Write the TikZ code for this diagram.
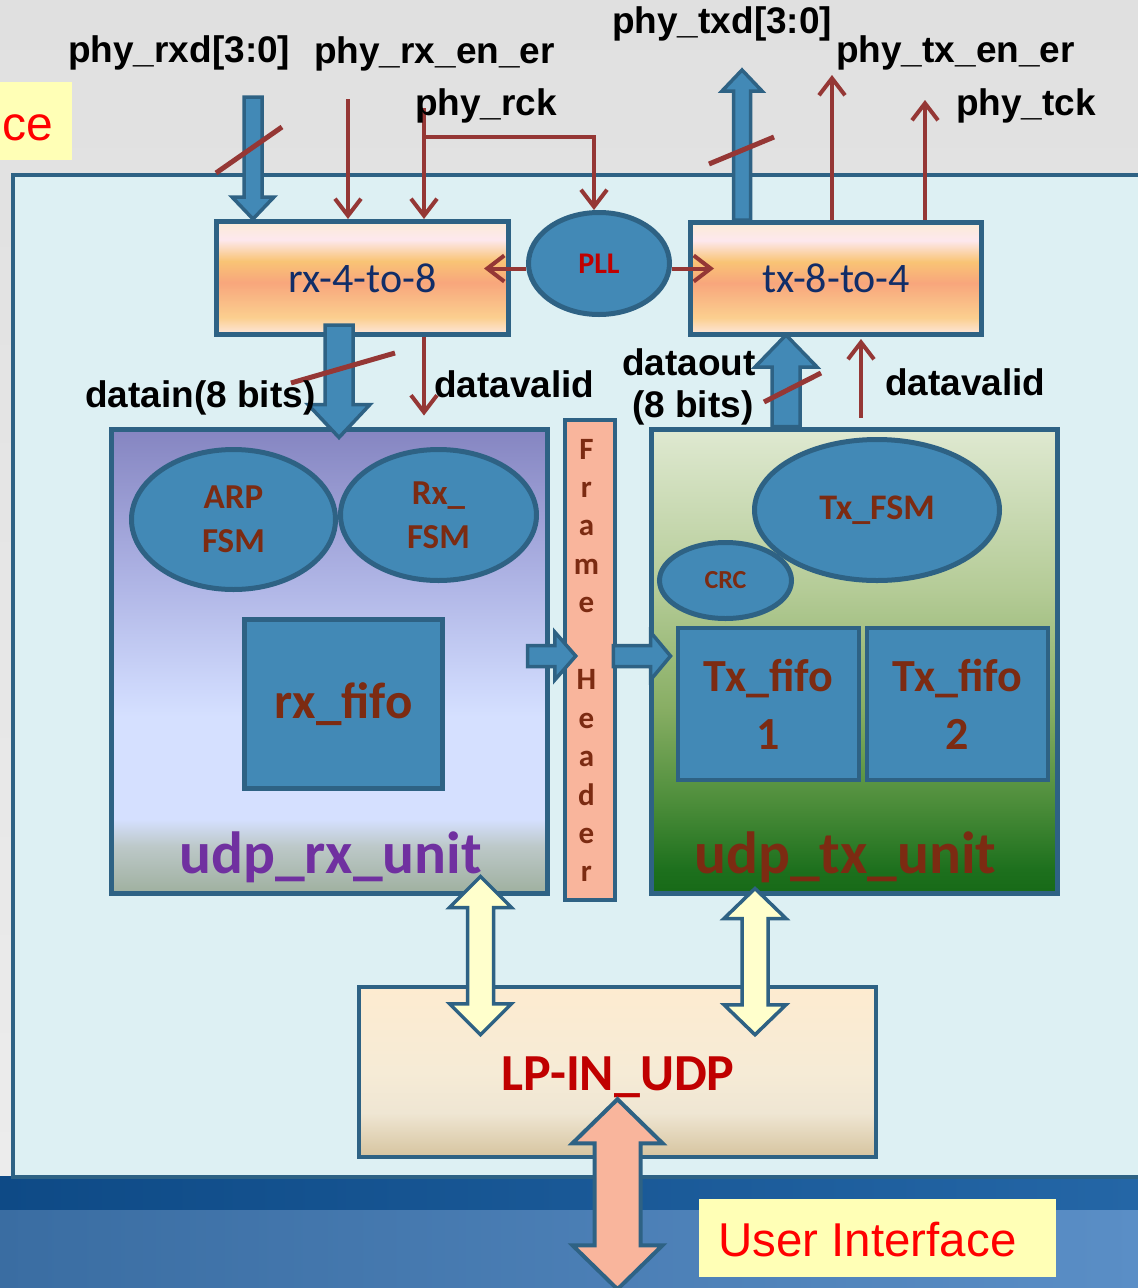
\documentclass[tikz,border=0pt]{standalone}
\usepackage{fontspec}
\setmainfont{Liberation Sans}
\newfontfamily\carl{Carlito}
\usetikzlibrary{calc,shapes.geometric,arrows.meta}
\definecolor{bgtop}{HTML}{E0E0E0}
\definecolor{bgbot}{HTML}{ECECEC}
\definecolor{banda1}{HTML}{0E4A86}
\definecolor{banda2}{HTML}{2466A6}
\definecolor{bandb1}{HTML}{3A6DA2}
\definecolor{bandb2}{HTML}{5A8EC6}
\definecolor{mainfill}{HTML}{DDF0F3}
\definecolor{bord}{HTML}{2E6284}
\definecolor{bluef}{HTML}{4289B6}
\definecolor{sigred}{HTML}{953735}
\definecolor{brownt}{HTML}{7C2B12}
\definecolor{navyt}{HTML}{112D68}
\definecolor{redt}{HTML}{C00000}
\definecolor{purpt}{HTML}{7030A0}
\definecolor{salm}{HTML}{F9B59C}
\definecolor{yelf}{HTML}{FFFFCC}
\definecolor{noteyel}{HTML}{FFFFB6}
\definecolor{uired}{HTML}{FF0000}
% converter box gradient
\definecolor{cvA}{HTML}{FDE7DE}
\definecolor{cvB}{HTML}{FBCF8F}
\definecolor{cvC}{HTML}{F8A67C}
\definecolor{cvD}{HTML}{F9C475}
\definecolor{cvE}{HTML}{FDE8EE}
\definecolor{cvF}{HTML}{FBEBD6}
\pgfdeclareverticalshading{convshade}{100bp}{color(0bp)=(cvA); color(25bp)=(cvA); color(32.5bp)=(cvB); color(48bp)=(cvC); color(57.5bp)=(cvD); color(67bp)=(cvE); color(75bp)=(cvF); color(100bp)=(cvF)}
% rx unit gradient
\definecolor{ruA}{HTML}{9FB09F}
\definecolor{ruB}{HTML}{BCC8C8}
\definecolor{ruC}{HTML}{D5E0FF}
\definecolor{ruD}{HTML}{CCD6FA}
\definecolor{ruE}{HTML}{ABB0E2}
\definecolor{ruF}{HTML}{8585C1}
\pgfdeclareverticalshading{rxunit}{100bp}{color(0bp)=(ruA); color(25bp)=(ruA); color(30bp)=(ruB); color(33bp)=(ruC); color(44bp)=(ruC); color(47.5bp)=(ruD); color(60bp)=(ruE); color(75bp)=(ruF); color(100bp)=(ruF)}
% tx unit gradient
\definecolor{tuA}{HTML}{176A17}
\definecolor{tuB}{HTML}{1D701D}
\definecolor{tuC}{HTML}{4E8E3B}
\definecolor{tuD}{HTML}{88AE64}
\definecolor{tuE}{HTML}{B4CB96}
\definecolor{tuF}{HTML}{DFE9D1}
\pgfdeclareverticalshading{txunit}{100bp}{color(0bp)=(tuA); color(25bp)=(tuA); color(27.5bp)=(tuB); color(35bp)=(tuC); color(45bp)=(tuD); color(57.5bp)=(tuE); color(75bp)=(tuF); color(100bp)=(tuF)}
% LP box gradient
\definecolor{lpA}{HTML}{D6C49F}
\definecolor{lpB}{HTML}{EFE6D3}
\definecolor{lpC}{HTML}{F6EBD6}
\definecolor{lpD}{HTML}{FDEBD0}
\pgfdeclareverticalshading{lpshade}{100bp}{color(0bp)=(lpA); color(25bp)=(lpA); color(38bp)=(lpB); color(50bp)=(lpC); color(75bp)=(lpD); color(100bp)=(lpD)}

% single block arrow: style, start, tip, shaft half width, head half width, head length
\newcommand{\myarrow}[6]{%
  \coordinate (hbA) at ($(#3)!#6!(#2)$);
  \draw[#1] ($(#2)!#4!90:(#3)$) -- ($(hbA)!#4!90:(#3)$) -- ($(hbA)!#5!90:(#3)$) -- (#3)
    -- ($(hbA)!#5!-90:(#3)$) -- ($(hbA)!#4!-90:(#3)$) -- ($(#2)!#4!-90:(#3)$) -- cycle;}
% double block arrow: style, tip1, tip2, shaft half width, head half width, head length
\newcommand{\mydarrow}[6]{%
  \coordinate (hdA) at ($(#2)!#6!(#3)$);
  \coordinate (hdB) at ($(#3)!#6!(#2)$);
  \draw[#1] (#2) -- ($(hdA)!#5!90:(#3)$) -- ($(hdA)!#4!90:(#3)$) -- ($(hdB)!#4!90:(#3)$)
    -- ($(hdB)!#5!90:(#3)$) -- (#3) -- ($(hdB)!#5!-90:(#3)$) -- ($(hdB)!#4!-90:(#3)$)
    -- ($(hdA)!#4!-90:(#3)$) -- ($(hdA)!#5!-90:(#3)$) -- cycle;}

\begin{document}
\begin{tikzpicture}[x=1pt,y=-1pt,
  lab/.style={font=\bfseries\fontsize{37}{40}\selectfont, text=black, inner sep=0pt, anchor=base west},
  sig/.style={draw=sigred, line width=4pt, -{Straight Barb[length=17pt,width=26pt]}},
  slash/.style={draw=sigred, line width=5pt},
  conv/.style={rectangle, draw=bord, line width=5pt, shade, shading=convshade, inner sep=0pt, text=navyt, font=\carl\fontsize{42}{50}\selectfont},
  blob/.style={ellipse, draw=bord, line width=5pt, fill=bluef, inner sep=0pt, text=brownt, align=center},
  bbox/.style={rectangle, draw=bord, line width=4.5pt, fill=bluef, inner sep=0pt, text=brownt, align=center},
  blk/.style={draw=bord, line width=3.5pt, fill=bluef},
  ylw/.style={draw=bord, line width=3.5pt, fill=yelf},
  slm/.style={draw=bord, line width=4pt, fill=salm},
  unitlab/.style={font=\carl\bfseries\fontsize{59.5}{62}\selectfont, anchor=base west, inner sep=0pt}
]
\useasboundingbox (0,0) rectangle (1138,1288);
% backgrounds
\fill[top color=bgtop, bottom color=bgbot] (0,0) rectangle (1138,1180);
\fill[left color=banda1, right color=banda2] (0,1176) rectangle (1138,1210);
\fill[left color=bandb1, right color=bandb2] (0,1210) rectangle (1138,1288);

% system box
\node[rectangle, draw=bord, line width=4pt, fill=mainfill, minimum width=1147, minimum height=1002, inner sep=0pt] (sys) at (586.5,676) {};

% note boxes
\node[rectangle, fill=noteyel, minimum width=72, minimum height=78, inner sep=0pt] (cebox) at (36,121) {};
\node[font=\fontsize{48}{50}\selectfont, text=uired, anchor=base west, inner sep=0pt] (cel) at (2,140) {ce};
\node[rectangle, fill=noteyel, minimum width=357, minimum height=78, inner sep=0pt] (ui) at (877.5,1238) {};
\node[font=\fontsize{47.5}{50}\selectfont, text=uired, anchor=base west, inner sep=0pt] (uil) at (718,1256) {User Interface};

% LP-IN_UDP box
\node[rectangle, draw=bord, line width=4.5pt, shade, shading=lpshade, minimum width=517, minimum height=170, inner sep=0pt] (lp) at (617.5,1072) {};
\node[font=\carl\bfseries\fontsize{52}{56}\selectfont, text=redt, anchor=base, inner sep=0pt] (lpl) at (618,1090) {LP-IN\_UDP};

% converters and PLL
\node[conv, minimum width=292, minimum height=113] (rx) at (362.5,278) {rx-4-to-8};
\node[conv, minimum width=291, minimum height=112] (tx) at (836,278.5) {tx-8-to-4};
\node[blob, minimum width=141, minimum height=102, text=redt, font=\carl\bfseries\fontsize{30}{36}\selectfont] (pll) at (599,263.5) {PLL};

% PHY signals
\coordinate (rxenS) at (348,99);
\draw[sig] (rxenS) -- (rxenS |- rx.north);
\coordinate (rckS) at (424,108);
\draw[sig] (rckS) -- (rckS |- rx.north);
\coordinate (rckB) at (424,137);
\draw[sig] (rckB) -| ($(pll.north)+(-5,0)$);
\draw[sig] ($(pll.west)+(0,5)$) -- ($(pll.west -| rx.east)+(-27,5)$);
\draw[sig] ($(pll.east)+(0,5)$) -- ($(pll.east -| tx.west)+(26,5)$);
\coordinate (txenT) at (832,75);
\draw[sig] (txenT |- tx.north) -- (txenT);
\coordinate (tckT) at (925,100);
\draw[sig] (tckT |- tx.north) -- (tckT);

% PHY data buses
\coordinate (rxdS) at (253,97);
\coordinate (rxdT) at (rxdS |- rx.north);
\myarrow{blk}{rxdS}{rxdT}{9pt}{21pt}{22pt}
\coordinate (txdT) at (742,70);
\coordinate (txdS) at (txdT |- tx.north);
\myarrow{blk}{txdS}{txdT}{8.5pt}{20pt}{21pt}
\draw[slash] (216,173) -- (282,127);
\draw[slash] (709,164) -- (774,137);

% units
\node[rectangle, draw=bord, line width=5pt, shade, shading=rxunit, minimum width=436, minimum height=464, inner sep=0pt] (urx) at (329,661) {};
\node[rectangle, draw=bord, line width=5pt, shade, shading=txunit, minimum width=406, minimum height=464, inner sep=0pt] (utx) at (854,661) {};
\node[rectangle, draw=bord, line width=4.5pt, fill=salm, minimum width=50, minimum height=480, inner sep=0pt] (fh) at (590,660) {};
\foreach \ch/\k in {F/0,r/1,a/2,m/3,e/4,H/6,e/7,a/8,d/9,e/10,r/11}
  {\node[font=\carl\bfseries\fontsize{31}{36}\selectfont, text=brownt, anchor=base, inner sep=0pt] (fl\k) at (586.5,{459+38.45*\k}) {\ch};}

% rx unit internals
\node[blob, minimum width=204, minimum height=140, font=\carl\bfseries\fontsize{35}{44}\selectfont] (arp) at (233.5,519.5) {ARP\\FSM};
\node[blob, minimum width=196, minimum height=131, font=\carl\bfseries\fontsize{35}{44}\selectfont] (rxfsm) at (438.5,515) {Rx\_\\FSM};
\node[bbox, minimum width=198, minimum height=169, font=\carl\bfseries\fontsize{51}{56}\selectfont] (rxfifo) at (343.5,704) {rx\_fifo};
\node[unitlab, text=purpt] (urxl) at (179,873) {udp\_rx\_unit};

% tx unit internals
\node[blob, minimum width=245, minimum height=141, font=\carl\bfseries\fontsize{36}{40}\selectfont] (txfsm) at (877,510) {Tx\_FSM};
\node[blob, minimum width=132, minimum height=76, font=\carl\bfseries\fontsize{26}{30}\selectfont] (crc) at (725.5,580.5) {CRC};
\node[bbox, minimum width=181, minimum height=152, font=\carl\bfseries\fontsize{46}{58}\selectfont] (txf1) at (768.5,704) {Tx\_fifo\\1};
\node[bbox, minimum width=181, minimum height=152, font=\carl\bfseries\fontsize{46}{58}\selectfont] (txf2) at (957.5,704) {Tx\_fifo\\2};
\node[unitlab, text=brownt] (utxl) at (694,873) {udp\_tx\_unit};

% 8-bit buses
\coordinate (dinx) at (339,0);
\coordinate (dinS) at ($(dinx |- rx.south)+(0,-12)$);
\coordinate (dinT) at ($(dinx |- urx.north)+(0,11)$);
\myarrow{blk}{dinS}{dinT}{14pt}{31pt}{33pt}
\coordinate (doutx) at (786,0);
\coordinate (doutS) at (doutx |- utx.north);
\coordinate (doutT) at ($(doutx |- tx.south)+(0,-2)$);
\myarrow{blk}{doutS}{doutT}{14pt}{31pt}{32pt}
\draw[slash] (291,383) -- (395,353);
\draw[slash] (764,402) -- (821,373);
\coordinate (dv1x) at (424,0);
\draw[sig] (dv1x |- rx.south) -- ($(dv1x |- urx.north)+(0,-11)$);
\coordinate (dv2x) at (861,0);
\draw[sig] ($(dv2x |- utx.north)+(0,-9)$) -- ($(dv2x |- tx.south)+(0,2)$);

% frame header arrows
\coordinate (fay) at (0,656);
\coordinate (fa1S) at ($(fay -| urx.east)+(-22,0)$);
\coordinate (fa1T) at ($(fay -| fh.west)+(13,0)$);
\myarrow{blk}{fa1S}{fa1T}{10.5pt}{24pt}{21pt}
\coordinate (fa2S) at ($(fay -| fh.east)+(-4,0)$);
\coordinate (fa2T) at ($(fay -| utx.west)+(22,0)$);
\myarrow{blk}{fa2S}{fa2T}{10.5pt}{24pt}{20pt}

% labels
\node[lab] (lrxd) at (68,62) {phy\_rxd[3:0]};
\node[lab] (lrxen) at (314,63) {phy\_rx\_en\_er};
\node[lab] (lrck) at (415,115) {phy\_rck};
\node[lab] (ltxd) at (612,33) {phy\_txd[3:0]};
\node[lab] (ltxen) at (836,62) {phy\_tx\_en\_er};
\node[lab] (ltck) at (956,115) {phy\_tck};
\node[lab] (ldin) at (85,407) {datain(8 bits)};
\node[lab] (ldv1) at (434,397) {datavalid};
\node[lab] (ldout) at (622,375) {dataout};
\node[lab] (l8b) at (632,417) {(8 bits)};
\node[lab] (ldv2) at (885,395) {datavalid};

% unit <-> LP-IN_UDP
\coordinate (y1x) at (480.5,0);
\coordinate (y1A) at ($(y1x |- urx.south)+(0,-19)$);
\coordinate (y1B) at ($(y1x |- lp.north)+(0,50)$);
\mydarrow{ylw}{y1A}{y1B}{13pt}{31pt}{31pt}
\coordinate (y2x) at (755,0);
\coordinate (y2A) at ($(y2x |- utx.south)+(0,-7)$);
\coordinate (y2B) at ($(y2x |- lp.north)+(0,50)$);
\mydarrow{ylw}{y2A}{y2B}{13pt}{31pt}{30pt}

% LP-IN_UDP <-> user
\coordinate (uA) at ($(lp.south)+(0,-60)$);
\coordinate (uB) at ($(lp.south)+(0,130)$);
\mydarrow{slm}{uA}{uB}{23pt}{45pt}{44pt}
\end{tikzpicture}
\end{document}
